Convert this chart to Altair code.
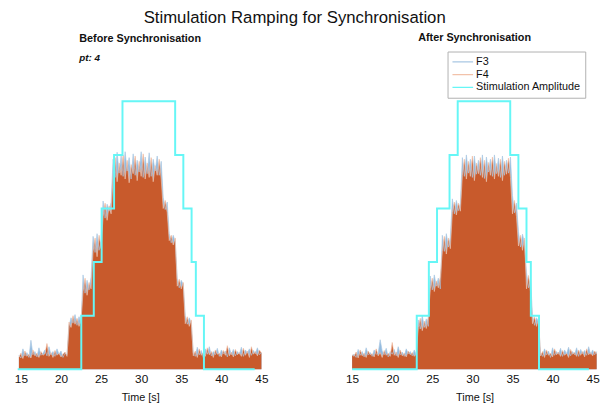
import altair as alt
import pandas as pd

FONT = "Liberation Sans"
TITLE = "Stimulation Ramping for Synchronisation"
PANEL_TITLES = ["Before Synchronisation", "After Synchronisation"]
PATIENT = "pt: 4"
SERIES = ["F3", "F4", "Stimulation Amplitude"]
SERIES_COLORS = ["#A9C7E3", "#F2C2AA", "#66F6F6"]
X_TICKS = [15, 20, 25, 30, 35, 40, 45]
X_DOMAIN_BEFORE = [14.6, 45.15]
X_DOMAIN_AFTER = [15.0, 45.55]

# sample grids, every 0.25 s
DT = 0.25
time_before = [14.75 + DT * i for i in range(122)]
time_after = [15.0 + DT * i for i in range(123)]

# ---- Before synchronisation (arbitrary amplitude units)
f4_before = [
    0.22, 0.30, 0.20, 0.34, 0.24, 0.28, 0.21, 0.36, 0.25, 0.30, 0.22, 0.33, 0.26,
    0.29, 0.48, 0.24, 0.31, 0.22, 0.35, 0.26, 0.30, 0.23, 0.28, 0.32, 0.24,
    0.88, 0.78, 1.00, 0.84, 0.95, 0.80, 0.92,
    1.45, 1.70, 1.38, 1.62, 1.50,
    2.20, 2.45, 2.10, 2.50, 2.25,
    2.85, 3.10, 2.78, 3.05, 2.90,
    3.60, 3.95, 3.50, 3.85, 3.62, 4.00, 3.55, 3.90, 3.48, 3.82, 3.65, 3.98, 3.52,
    3.88, 3.60, 4.02, 3.55, 3.85, 3.58, 3.95, 3.50, 3.80, 3.62, 3.92, 3.55,
    3.00, 3.15, 2.92,
    2.40, 2.50, 2.32, 2.45,
    1.55, 1.68, 1.50, 1.62,
    0.85, 0.98, 0.80, 0.92,
    0.25, 0.34, 0.22, 0.38, 0.26, 0.31, 0.24, 0.40, 0.27, 0.33, 0.22, 0.36, 0.28,
    0.30, 0.23, 0.35, 0.26, 0.44, 0.25, 0.32, 0.23, 0.37, 0.27, 0.31, 0.24, 0.39,
    0.26, 0.34, 0.22, 0.42, 0.28, 0.33, 0.25, 0.36, 0.30,
]
f3_before = [
    0.26, 0.21, 0.38, 0.25, 0.31, 0.22, 0.54, 0.27, 0.33, 0.23, 0.40, 0.26, 0.30,
    0.36, 0.25, 0.42, 0.27, 0.33, 0.24, 0.38, 0.28, 0.34, 0.22, 0.30, 0.27,
    0.80, 0.96, 0.86, 1.02, 0.82, 0.98, 0.85,
    1.76, 1.42, 1.66, 1.48, 1.72,
    2.48, 2.18, 2.53, 2.22, 2.40,
    3.14, 2.82, 3.08, 2.95, 3.12,
    3.92, 3.58, 4.05, 3.66, 3.98, 3.60, 4.06, 3.70, 3.95, 3.55, 4.02, 3.62, 3.90,
    3.68, 4.06, 3.58, 3.96, 3.65, 4.04, 3.60, 3.92, 3.70, 3.98, 3.62, 3.88,
    3.21, 2.98, 3.12,
    2.53, 2.36, 2.50, 2.38,
    1.70, 1.52, 1.66, 1.58,
    1.00, 0.84, 0.96, 0.86,
    0.30, 0.24, 0.41, 0.27, 0.35, 0.22, 0.38, 0.28, 0.42, 0.25, 0.33, 0.27, 0.39,
    0.24, 0.36, 0.29, 0.34, 0.23, 0.40, 0.27, 0.37, 0.25, 0.33, 0.28, 0.41, 0.24,
    0.36, 0.30, 0.38, 0.26, 0.35, 0.29, 0.40, 0.27, 0.31,
]

# ---- After synchronisation
f4_after = [
    0.27,
    0.24, 0.32, 0.21, 0.36, 0.25, 0.30, 0.22, 0.34, 0.27, 0.29, 0.23, 0.38, 0.25,
    0.31, 0.22, 0.35, 0.26, 0.30, 0.24, 0.50, 0.26, 0.32, 0.22, 0.36, 0.25, 0.30,
    0.23, 0.34, 0.27, 0.31, 0.24, 0.28,
    0.78, 0.95, 0.72, 0.90, 0.76, 0.98,
    1.50, 1.70, 1.45, 1.65, 1.52, 1.72,
    2.20, 2.48, 2.15, 2.45, 2.25,
    2.92, 3.12, 2.88, 3.10, 2.95,
    3.62, 3.92, 3.55, 3.88, 3.60, 3.98, 3.52, 3.85, 3.65, 3.95, 3.58, 3.90, 3.50,
    3.86, 3.62, 3.96, 3.55, 3.84, 3.60, 3.92, 3.52, 3.88, 3.64, 3.94, 3.58,
    2.90, 3.15, 2.85,
    2.30, 2.50, 2.22, 2.45,
    1.50, 1.75, 1.45,
    0.85, 0.98, 0.80, 0.94,
    0.25, 0.33, 0.22, 0.36, 0.26, 0.30, 0.23, 0.38, 0.27, 0.32, 0.24, 0.35, 0.26,
    0.30, 0.22, 0.37, 0.28, 0.31, 0.24, 0.36, 0.26, 0.33, 0.23, 0.38, 0.27, 0.31,
    0.25, 0.34, 0.29,
]
f3_after = [
    0.25,
    0.28, 0.22, 0.37, 0.26, 0.33, 0.23, 0.40, 0.27, 0.31, 0.24, 0.36, 0.28, 0.30,
    0.55, 0.34, 0.27, 0.39, 0.23, 0.33, 0.28, 0.37, 0.25, 0.42, 0.27, 0.32, 0.24,
    0.38, 0.29, 0.33, 0.25, 0.36, 0.27,
    0.92, 0.75, 1.00, 0.78, 0.94, 0.80,
    1.74, 1.48, 1.76, 1.55, 1.70, 1.50,
    2.50, 2.20, 2.53, 2.28, 2.46,
    3.18, 2.90, 3.15, 2.96, 3.10,
    3.95, 3.60, 4.00, 3.66, 3.92, 3.58, 3.98, 3.64, 3.90, 3.62, 4.00, 3.56, 3.96,
    3.68, 3.92, 3.60, 4.00, 3.65, 3.94, 3.58, 3.98, 3.62, 3.90, 3.66, 3.96,
    3.24, 2.92, 3.10,
    2.57, 2.28, 2.52, 2.35,
    1.80, 1.52, 1.70,
    1.00, 0.82, 0.96, 0.88,
    0.30, 0.24, 0.38, 0.27, 0.34, 0.22, 0.40, 0.26, 0.33, 0.28, 0.39, 0.24, 0.36,
    0.29, 0.41, 0.25, 0.33, 0.27, 0.40, 0.24, 0.37, 0.29, 0.35, 0.26, 0.42, 0.28,
    0.36, 0.27, 0.33,
]

# ---- stimulation amplitude steps (step-after)
stim_levels = [0, 1, 2, 3, 4, 5, 4, 3, 2, 1, 0, 0]
stim_before_t = [14.6, 22.53, 24.09, 25.07, 26.62, 27.67, 34.24, 35.26, 36.29, 36.82, 37.83, 44.16]
stim_after_t = [15.0, 23.06, 24.57, 25.59, 27.15, 28.17, 34.72, 35.74, 36.75, 37.29, 38.31, 44.53]

Y_MAX = 5.93
PANEL_W, PANEL_H = 249, 323

color_scale = alt.Scale(domain=SERIES, range=SERIES_COLORS)


def panel(tgrid, f3, f4, stim_t, xdom, title, show_legend, note=None):
    df = pd.DataFrame({"t": tgrid, "F3": f3, "F4": f4})
    sdf = pd.DataFrame({"t": stim_t, "amp": stim_levels,
                        "series": ["Stimulation Amplitude"] * len(stim_t)})
    x = alt.X("t:Q", scale=alt.Scale(domain=xdom, nice=False, zero=False),
              axis=alt.Axis(values=X_TICKS, title="Time [s]", format="d",
                            labelFlush=False))
    ys = alt.Scale(domain=[0, Y_MAX], nice=False, zero=True)
    if show_legend:
        legend = alt.Legend(
            orient="none", legendX=97, legendY=0, title=None,
            symbolType="stroke", symbolStrokeWidth=1.3, symbolSize=440,
            labelFont=FONT, labelFontSize=11, labelColor="#111",
            padding=4, strokeColor="#b0b0b0", fillColor="white",
            rowPadding=0, clipHeight=13, labelOffset=2, symbolOpacity=1,
        )
    else:
        legend = None
    base = alt.Chart(df)
    a3 = base.mark_area(color="#86B2DB", opacity=0.9).encode(
        x=x, y=alt.Y("F3:Q", scale=ys, axis=None))
    a4 = base.mark_area(color="#C85A2C").encode(
        x=x, y=alt.Y("F4:Q", scale=ys, axis=None))
    lines = base.transform_fold(["F3", "F4"], as_=["series", "v"]).mark_line(
        strokeWidth=0.8, opacity=0.85).encode(
        x=x, y=alt.Y("v:Q", scale=ys, axis=None),
        color=alt.Color("series:N", scale=color_scale, legend=legend))
    stim = alt.Chart(sdf).mark_line(interpolate="step-after", strokeWidth=2).encode(
        x=x, y=alt.Y("amp:Q", scale=ys, axis=None),
        color=alt.Color("series:N", scale=color_scale, legend=legend))
    layers = [a3, a4, lines, stim]
    if note:
        txt = alt.Chart(pd.DataFrame({"label": [note]})).mark_text(
            align="left", baseline="middle", font=FONT, fontSize=10,
            fontWeight="bold", fontStyle="italic", color="#111").encode(
            x=alt.value(62.5), y=alt.value(7), text="label:N")
        layers.append(txt)
    return alt.layer(*layers).properties(
        width=PANEL_W, height=PANEL_H,
        title=alt.TitleParams(title, font=FONT, fontSize=11, fontWeight="bold",
                              anchor="middle", offset=8, color="#111"))


left = panel(time_before, f3_before, f4_before, stim_before_t, X_DOMAIN_BEFORE,
             PANEL_TITLES[0], False, PATIENT)
right = panel(time_after, f3_after, f4_after, stim_after_t, X_DOMAIN_AFTER,
              PANEL_TITLES[1], True)

chart = alt.hconcat(left, right, spacing=78).resolve_legend(color="independent").properties(
    title=alt.TitleParams(TITLE, font=FONT, fontSize=17, fontWeight="normal",
                          anchor="middle", offset=5, dx=-12, color="#111"),
    padding={"left": 14, "top": 6, "right": 0, "bottom": 0},
).configure_view(stroke=None).configure_axis(
    domain=False, ticks=False, grid=False, labelFont=FONT, labelFontSize=12,
    labelColor="#111", labelPadding=4, titleFont=FONT, titleFontSize=11,
    titleFontWeight="normal", titleColor="#111", titlePadding=8,
)

chart.save("out.html", embed_options={"renderer": "svg", "actions": False})
